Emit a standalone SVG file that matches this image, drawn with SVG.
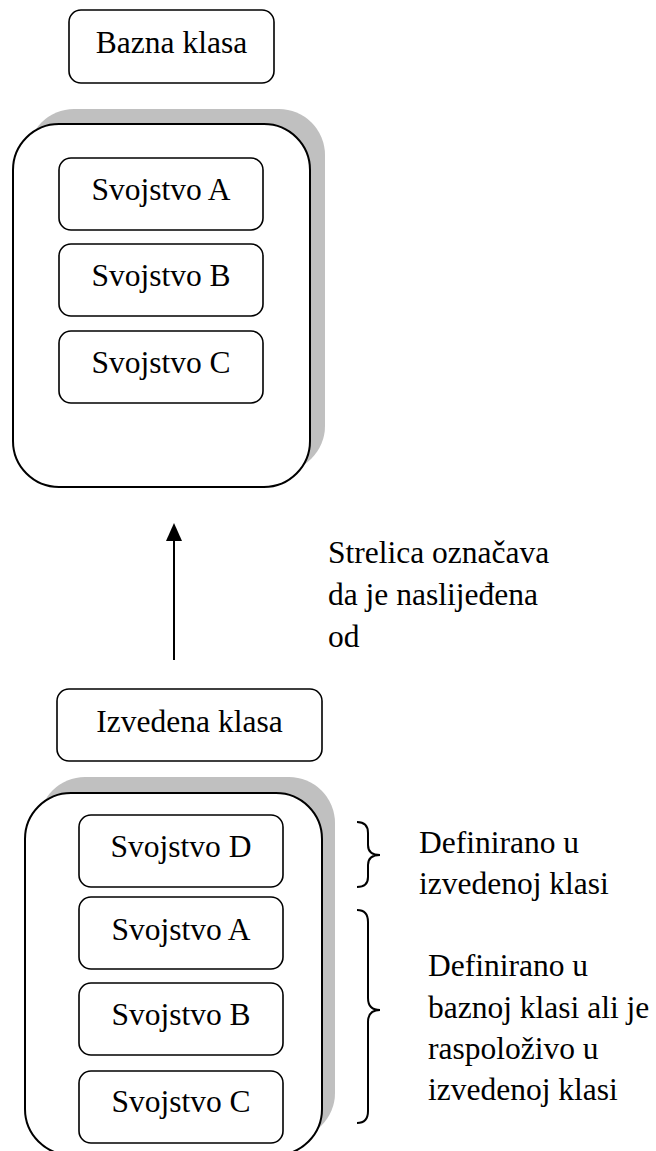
<svg xmlns="http://www.w3.org/2000/svg" width="656" height="1151" viewBox="0 0 656 1151">
<defs>
<style>
text{font-family:"Liberation Serif","Times New Roman",serif;font-size:31.5px;fill:#000}
.c{text-anchor:middle}
.box{fill:#fff;stroke:#000;stroke-width:1.6}
.big{fill:#fff;stroke:#000;stroke-width:2}
.sh{fill:#c0c0c0;stroke:none}
.conn{fill:none;stroke:#000;stroke-width:2}
</style>
</defs>
<rect width="656" height="1151" fill="#fff"/>
<g id="bazna-klasa">
<rect class="box" x="69" y="10" width="205" height="73" rx="12"/>
<text class="c" x="171.5" y="53">Bazna klasa</text>
</g>
<g id="bazna-container">
<rect class="sh" x="28" y="109" width="297" height="363" rx="46"/>
<rect class="big" x="13" y="124" width="297" height="363" rx="46"/>
</g>
<g id="bazna-svojstvo-a">
<rect class="box" x="59" y="158" width="204" height="72" rx="12"/>
<text class="c" x="161" y="200">Svojstvo A</text>
</g>
<g id="bazna-svojstvo-b">
<rect class="box" x="59" y="244" width="204" height="72" rx="12"/>
<text class="c" x="161" y="286">Svojstvo B</text>
</g>
<g id="bazna-svojstvo-c">
<rect class="box" x="59" y="331" width="204" height="72" rx="12"/>
<text class="c" x="161" y="373">Svojstvo C</text>
</g>
<g id="izvedena-klasa">
<rect class="box" x="57" y="689" width="265" height="72" rx="12"/>
<text class="c" x="189.5" y="732">Izvedena klasa</text>
</g>
<g id="izvedena-container">
<rect class="sh" x="39" y="777" width="296" height="362" rx="46"/>
<rect class="big" x="25" y="793" width="297" height="362" rx="46"/>
</g>
<g id="izvedena-svojstvo-d">
<rect class="box" x="79" y="815" width="204" height="72" rx="12"/>
<text class="c" x="181" y="857">Svojstvo D</text>
</g>
<g id="izvedena-svojstvo-a">
<rect class="box" x="79" y="897" width="204" height="72" rx="12"/>
<text class="c" x="181" y="940">Svojstvo A</text>
</g>
<g id="izvedena-svojstvo-b">
<rect class="box" x="79" y="983" width="204" height="72" rx="12"/>
<text class="c" x="181" y="1025">Svojstvo B</text>
</g>
<g id="izvedena-svojstvo-c">
<rect class="box" x="79" y="1071" width="204" height="72" rx="12"/>
<text class="c" x="181" y="1112">Svojstvo C</text>
</g>
<g id="connectors">
<line class="conn" x1="174" y1="660" x2="174" y2="538"/>
<polygon points="166,541 182,541 174,523" fill="#000"/>
<path class="conn" stroke-width="1.8" d="M357,822 Q368,822 368,833 L368,845 Q368,855 380,855 Q368,855 368,865 L368,877 Q368,887 357,887"/>
<path class="conn" stroke-width="1.8" d="M357,910 Q368,910 368,922 L368,998 Q368,1010 380,1010 Q368,1010 368,1022 L368,1111 Q368,1123 357,1123"/>
</g>
<g id="labels">
<text x="328" y="563">Strelica označava</text>
<text x="328" y="605">da je naslijeđena</text>
<text x="328" y="647">od</text>
<text x="419" y="853">Definirano u</text>
<text x="419" y="894">izvedenoj klasi</text>
<text x="428" y="976">Definirano u</text>
<text x="428" y="1018">baznoj klasi ali je</text>
<text x="428" y="1059">raspoloživo u</text>
<text x="428" y="1100">izvedenoj klasi</text>
</g>
</svg>
